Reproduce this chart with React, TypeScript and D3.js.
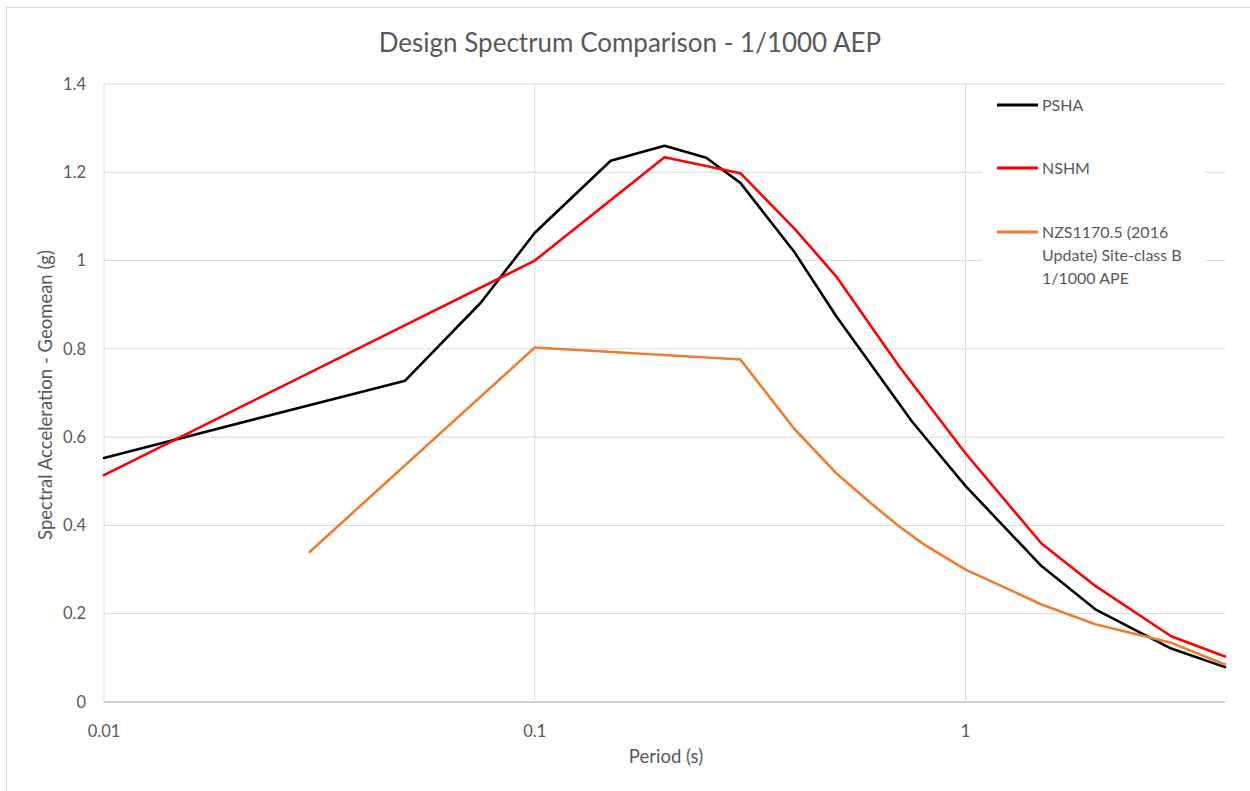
import React from "react";
import * as d3 from "d3";

const psha: [number, number][] = [
  [0.01, 0.553], [0.05, 0.728], [0.075, 0.905], [0.1, 1.063], [0.15, 1.226],
  [0.2, 1.26], [0.25, 1.233], [0.3, 1.176], [0.4, 1.02], [0.5, 0.875],
  [0.75, 0.636], [1, 0.489], [1.5, 0.308], [2, 0.21], [3, 0.121], [4, 0.079],
];
const nshm: [number, number][] = [
  [0.01, 0.514], [0.1, 1.0], [0.2, 1.234], [0.3, 1.198], [0.4, 1.073],
  [0.5, 0.965], [0.7, 0.761], [1, 0.563], [1.5, 0.359], [2, 0.263],
  [3, 0.149], [4, 0.103],
];
const nzs: [number, number][] = [
  [0.03, 0.34], [0.1, 0.803], [0.3, 0.776], [0.4, 0.619], [0.5, 0.519],
  [0.6, 0.452], [0.7, 0.398], [0.8, 0.357], [1, 0.3], [1.5, 0.221],
  [2, 0.176], [3, 0.134], [4, 0.085],
];
const xTicks = [0.01, 0.1, 1];
const xTickLabels = ["0.01", "0.1", "1"];
const yTicks = [0, 0.2, 0.4, 0.6, 0.8, 1, 1.2, 1.4];
const yTickLabels = ["0", "0.2", "0.4", "0.6", "0.8", "1", "1.2", "1.4"];
const seriesNames = ["PSHA", "NSHM", "NZS1170.5 (2016 Update) Site-class B 1/1000 APE"];

const FONT = "Lato, 'Open Sans', sans-serif";
const TXT = "#595959";
const GRID = "#d9d9d9";

export default function App() {
  const left = 104, right = 1225, top = 84, bottom = 702;
  const x = d3.scaleLog().domain([0.01, 4]).range([left, right]);
  const y = d3.scaleLinear().domain([0, 1.4]).range([bottom, top]);
  const line = d3.line<[number, number]>().x((d) => x(d[0])).y((d) => y(d[1]));

  const series = [
    { name: seriesNames[0], data: psha, color: "#000000" },
    { name: seriesNames[1], data: nshm, color: "#ff0000" },
    { name: seriesNames[2], data: nzs, color: "#ed7d31" },
  ];

  const legendY = [105, 168, 232];
  const legendLines = [["PSHA"], ["NSHM"], ["NZS1170.5 (2016", "Update) Site-class B", "1/1000 APE"]];

  return (
    <svg width={1250} height={791} style={{ position: "absolute", left: 0, top: 0, background: "#fff" }}>
      <rect x={0} y={0} width={1250} height={791} fill="#fff" />
      <rect x={6.5} y={7.5} width={1300} height={900} fill="none" stroke={GRID} strokeWidth={1} />
      <text x={630} y={52} textAnchor="middle" fontFamily={FONT} fontSize={26} fill={TXT}>
        Design Spectrum Comparison - 1/1000 AEP
      </text>
      {yTicks.map((t, i) => (
        <line key={"hy" + i} x1={left} x2={right} y1={y(t)} y2={y(t)}
          stroke={t === 0 ? "#bfbfbf" : GRID} strokeWidth={t === 0 ? 1.5 : 1} />
      ))}
      {xTicks.map((t, i) => (
        <line key={"vx" + i} x1={x(t)} x2={x(t)} y1={top} y2={bottom} stroke={GRID} strokeWidth={1} />
      ))}
      <rect x={982} y={89} width={223} height={206} fill="#fff" />
      {series.map((s, i) => (
        <path key={"s" + i} d={line(s.data) || ""} fill="none" stroke={s.color} strokeWidth={2.6}
          strokeLinejoin="round" strokeLinecap="round" />
      ))}
      {yTicks.map((t, i) => (
        <text key={"yl" + i} x={86} y={y(t)} dy="0.35em" textAnchor="end" fontFamily={FONT} fontSize={16.5} fill={TXT}>
          {yTickLabels[i]}
        </text>
      ))}
      {xTicks.map((t, i) => (
        <text key={"xl" + i} x={x(t)} y={731} dy="0.35em" textAnchor="middle" fontFamily={FONT} fontSize={16.5} fill={TXT}>
          {xTickLabels[i]}
        </text>
      ))}
      <text x={666} y={757} dy="0.35em" textAnchor="middle" fontFamily={FONT} fontSize={18.5} fill={TXT}>
        Period (s)
      </text>
      <text transform={`translate(46,395) rotate(-90)`} dy="0.35em" textAnchor="middle" fontFamily={FONT} fontSize={18.5} fill={TXT}>
        Spectral Acceleration - Geomean (g)
      </text>
      {series.map((s, i) => (
        <g key={"lg" + i}>
          <line x1={997} x2={1038} y1={legendY[i]} y2={legendY[i]} stroke={s.color} strokeWidth={3} />
          {legendLines[i].map((l, j) => (
            <text key={j} x={1042} y={legendY[i] + j * 23} dy="0.35em" fontFamily={FONT} fontSize={16} fill={TXT}>
              {l}
            </text>
          ))}
        </g>
      ))}
    </svg>
  );
}
